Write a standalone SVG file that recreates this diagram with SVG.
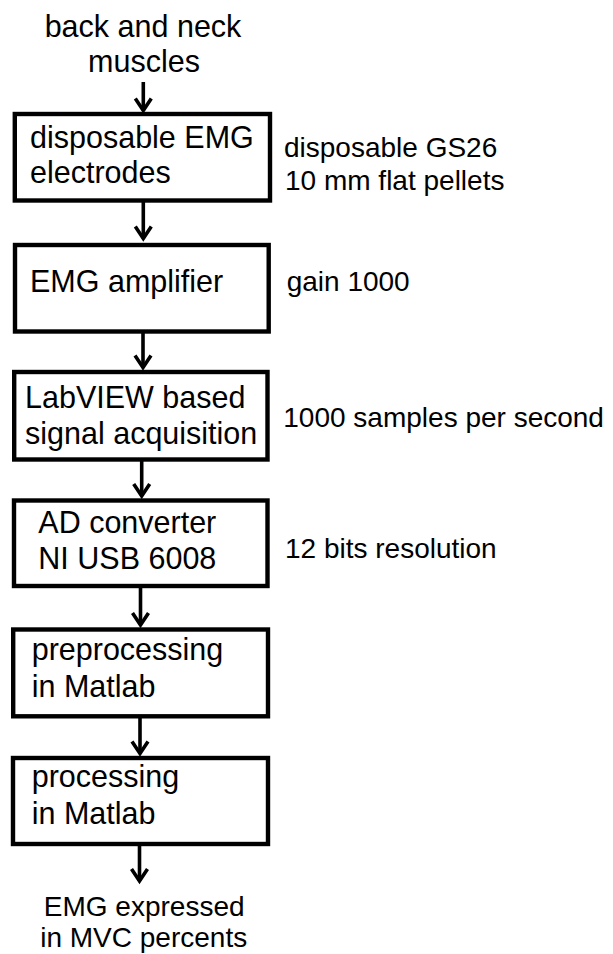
<svg xmlns="http://www.w3.org/2000/svg" width="613" height="954" viewBox="0 0 613 954">
<defs>
<style>
text{font-family:"Liberation Sans",Arial,sans-serif;fill:#000}
.b{font-size:30.5px}
.r{font-size:28px}
.c{text-anchor:middle}
.box{fill:#fff;stroke:#000;stroke-width:4.4}
.ln{stroke:#000;stroke-width:3.6;fill:none}
</style>
<marker id="ah" markerUnits="userSpaceOnUse" viewBox="-16 -11 20 22" markerWidth="20" markerHeight="22" refX="0" refY="0" orient="auto">
<path d="M-12,-8 L0,0 L-12,8" fill="none" stroke="#000" stroke-width="3.6" stroke-linejoin="miter"/>
</marker>
</defs>
<rect width="613" height="954" fill="#fff"/>
<g id="connectors">
<line class="ln" x1="143.3" y1="82" x2="143.3" y2="110.5" marker-end="url(#ah)"/>
<line class="ln" x1="143.3" y1="202" x2="143.3" y2="238.5" marker-end="url(#ah)"/>
<line class="ln" x1="143" y1="333" x2="143" y2="367.5" marker-end="url(#ah)"/>
<line class="ln" x1="141.7" y1="461" x2="141.7" y2="496" marker-end="url(#ah)"/>
<line class="ln" x1="140.5" y1="587" x2="140.5" y2="625" marker-end="url(#ah)"/>
<line class="ln" x1="140" y1="718" x2="140" y2="753.5" marker-end="url(#ah)"/>
<line class="ln" x1="139.5" y1="846" x2="139.5" y2="881" marker-end="url(#ah)"/>
</g>
<g id="n-source">
<text class="b c" x="143" y="37.3">back and neck</text>
<text class="b c" x="144" y="71.7">muscles</text>
</g>
<g id="n-electrodes">
<rect class="box" x="14.8" y="114" width="255.2" height="86.5"/>
<text class="b" x="30" y="148.3">disposable EMG</text>
<text class="b" x="30" y="183">electrodes</text>
</g>
<g id="n-amplifier">
<rect class="box" x="15" y="245" width="253.7" height="86.5"/>
<text class="b" x="30" y="292.3">EMG amplifier</text>
</g>
<g id="n-labview">
<rect class="box" x="14.2" y="372" width="253.3" height="87.5"/>
<text class="b" x="25" y="408.3">LabVIEW based</text>
<text class="b" x="25" y="444">signal acquisition</text>
</g>
<g id="n-adc">
<rect class="box" x="14" y="500.5" width="253.5" height="85.5"/>
<text class="b" x="38.3" y="533.3">AD converter</text>
<text class="b" x="38.3" y="569.3">NI USB 6008</text>
</g>
<g id="n-preprocessing">
<rect class="box" x="13.2" y="629.5" width="254.8" height="86.8"/>
<text class="b" x="31.7" y="660">preprocessing</text>
<text class="b" x="31.7" y="696.7">in Matlab</text>
</g>
<g id="n-processing">
<rect class="box" x="13" y="758" width="255" height="86"/>
<text class="b" x="31.7" y="786.7">processing</text>
<text class="b" x="31.7" y="824.3">in Matlab</text>
</g>
<g id="n-output">
<text class="r c" x="144.2" y="916">EMG expressed</text>
<text class="r c" x="143.7" y="946.7">in MVC percents</text>
</g>
<g id="notes">
<text class="r" x="284" y="156.7">disposable GS26</text>
<text class="r" x="285" y="190">10 mm flat pellets</text>
<text class="r" x="286.7" y="291">gain 1000</text>
<text class="r" x="283.3" y="426.7">1000 samples per second</text>
<text class="r" x="285" y="558.3">12 bits resolution</text>
</g>
</svg>
